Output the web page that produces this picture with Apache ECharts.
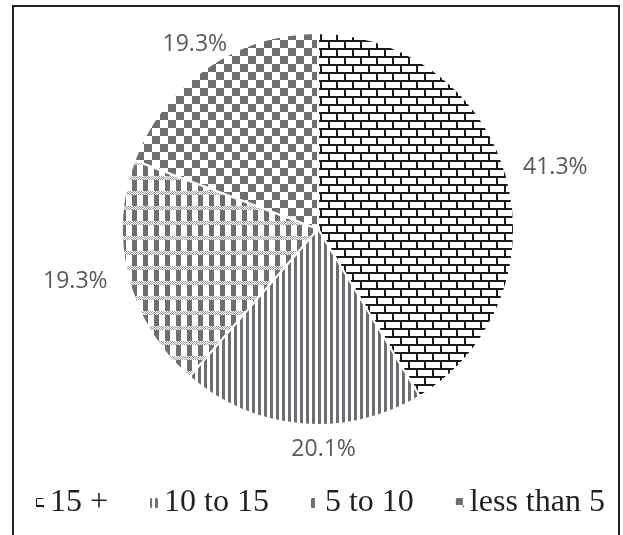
<!DOCTYPE html>
<html><head><meta charset="utf-8">
<script src="https://cdn.jsdelivr.net/npm/echarts@6/dist/echarts.min.js"></script>
<style>html,body{margin:0;padding:0;background:#fff}#c{width:623px;height:535px}
#frame{position:absolute;left:12px;top:5px;width:608px;height:540px;border:2px solid #231f20;box-sizing:border-box;pointer-events:none}</style>
</head><body><div id="c"></div><div id="frame"></div>
<script>
const categories = ['15 +', '10 to 15', '5 to 10', 'less than 5'];
const values = [41.3, 20.1, 19.3, 19.3];
const labels = ['41.3%', '20.1%', '19.3%', '19.3%'];

const labelNudge = [[-6, -4], [61, 7], [2, 0], [36, -9]];

const GRAY = '#6d6e71';
function tile(w, h, draw) {
  const c = document.createElement('canvas');
  c.width = w; c.height = h;
  const g = c.getContext('2d');
  g.fillStyle = '#fff'; g.fillRect(0, 0, w, h);
  draw(g);
  return { image: c, repeat: 'repeat' };
}
const brick = tile(16, 16, g => {
  g.fillStyle = '#1a1a1a';
  g.fillRect(0, 0, 16, 2);
  g.fillRect(0, 8, 16, 2);
  g.fillRect(0, 0, 2, 8);
  g.fillRect(8, 8, 2, 8);
});
const vlines = tile(6, 6, g => { g.fillStyle = GRAY; g.fillRect(0, 0, 3, 6); });
const grid = tile(11, 15, g => {
  g.fillStyle = GRAY;
  g.fillRect(0, 0, 5, 11);
  g.fillStyle = '#9a9b9e';
  for (let y = 11; y < 15; y++) for (let x = 0; x < 11; x++) if ((x + y) % 2 === 0) g.fillRect(x, y, 1, 1);
});
const checker = tile(16, 16, g => {
  g.fillStyle = GRAY;
  g.fillRect(0, 0, 8, 8);
  g.fillRect(8, 8, 8, 8);
});
const fills = [brick, vlines, grid, checker];

const chart = echarts.init(document.getElementById('c'));
chart.setOption({
  animation: false,
  legend: {
    bottom: 11, left: 29,
    itemWidth: 10, itemHeight: 12, itemGap: 40,
    textStyle: { fontFamily: 'Liberation Serif', fontSize: 32, color: '#231f20' },
    data: categories
  },
  series: [{
    type: 'pie',
    center: [318, 229], radius: 196,
    startAngle: 90, clockwise: true,
    itemStyle: { borderColor: '#fff', borderWidth: 2 },
    label: {
      position: 'outside', fontFamily: 'Open Sans', fontSize: 23, color: '#595959',
      formatter: p => labels[p.dataIndex]
    },
    labelLine: { show: false, length: 18, length2: 0 },
    labelLayout: p => ({ dx: labelNudge[p.dataIndex][0], dy: labelNudge[p.dataIndex][1] }),
    emphasis: { disabled: true },
    data: categories.map((n, i) => ({ name: n, value: values[i], itemStyle: { color: fills[i] } }))
  }]
});
</script></body></html>
